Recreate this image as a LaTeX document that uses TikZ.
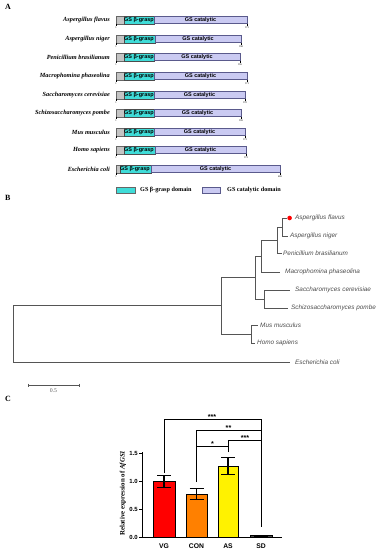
\documentclass[tikz,border=0pt]{standalone}
\usepackage{fontspec}
\setmainfont{Liberation Serif}
\setsansfont{Liberation Sans}
\usetikzlibrary{positioning,calc}

\definecolor{grasp}{HTML}{3FDCD8}
\definecolor{catal}{HTML}{CACAF2}
\definecolor{segline}{HTML}{5A5A8C}
\definecolor{stub}{HTML}{C4C4C4}
\definecolor{treeline}{HTML}{555555}

\begin{document}
\begin{tikzpicture}[
        x=1bp, y=-1bp,
        panel/.style={
            font=\bfseries\fontsize{8}{9}\selectfont,
            anchor=west,
            inner sep=0pt
        },
        species/.style={
            font=\bfseries\itshape\fontsize{6.3}{7}\selectfont,
            anchor=east,
            inner sep=0pt
        },
        segtext/.style={
            font=\sffamily\bfseries\fontsize{5.5}{6}\selectfont,
            inner sep=0pt
        },
        tiny/.style={
            font=\fontsize{2.6}{3}\selectfont,
            inner sep=0pt,
            anchor=north
        },
        legtext/.style={
            font=\bfseries\fontsize{6.2}{7}\selectfont,
            anchor=west,
            inner sep=0pt
        },
        leaf/.style={
            font=\sffamily\itshape\fontsize{6.4}{7}\selectfont,
            text=black!70,
            anchor=west,
            inner sep=0pt
        },
        branch/.style={draw=treeline, line width=0.8bp},
        bar/.style={draw=black, line width=0.8bp, fill=#1},
        errbar/.style={draw=black, line width=1.1bp},
        sig/.style={draw=black, line width=0.7bp},
        star/.style={
            font=\sffamily\bfseries\fontsize{7.2}{8}\selectfont,
            inner sep=0pt
        },
        ticklab/.style={
            font=\sffamily\bfseries\fontsize{6}{7}\selectfont,
            inner sep=0pt
        },
        axlab/.style={
            font=\sffamily\bfseries\fontsize{6.8}{7}\selectfont,
            inner sep=0pt
        }
    ]
        \useasboundingbox (0,0) rectangle (377,550);

        % Panel A: domain architecture
        \node[panel] (pa) at (5,7) {A};

        \foreach \nm/\yy/\xg/\xc/\xe/\num [count=\i] in {
                Aspergillus flavus/20/124/154/247/371,
                Aspergillus niger/39/124/155/241/358,
                Penicillium brasilianum/57/124/154/240/355,
                Macrophomina phaseolina/76/124/154/247/371,
                Saccharomyces cerevisiae/95/124/154/245/370,
                Schizosaccharomyces pombe/113/124/154/241/359,
                Mus musculus/132/124/154/245/373,
                Homo sapiens/150/124/155/246/373,
                Escherichia coli/169/120/151/280/469} {
            \node[species] (sp\i) at (110,\yy) {\nm};
            \filldraw[fill=stub, draw=black!60, line width=0.3bp]
                (116,\yy-3.7) rectangle (\xg,\yy+3.7);
            \filldraw[fill=grasp, draw=black!70, line width=0.3bp]
                (\xg,\yy-3.7) rectangle (\xc,\yy+3.7);
            \filldraw[fill=catal, draw=segline, line width=0.5bp]
                (\xc,\yy-3.7) rectangle (\xe,\yy+3.7);
            \draw[line width=0.3bp] (116,\yy+3.7) -- (116,\yy+6.5);
            \draw[line width=0.3bp] (\xe,\yy+3.7) -- (\xe,\yy+6.5);
            \node[tiny] (st\i) at (116,\yy+7) {1};
            \node[tiny] (en\i) at (\xe,\yy+7) {\num};
            \node[segtext, anchor=west] (gr\i) at (\xg,\yy) {GS β-grasp};
            \node[segtext] (ca\i) at ({(\xc+\xe)/2},\yy) {GS catalytic};
        }

        % Legend
        \filldraw[fill=grasp, draw=black!60, line width=0.4bp] (116,187) rectangle (135,193);
        \node[legtext] (lg1) at (140,190) {GS β-grasp domain};
        \filldraw[fill=catal, draw=segline, line width=0.5bp] (202,187) rectangle (220,193);
        \node[legtext] (lg2) at (227,190) {GS catalytic domain};

        % Panel B: phylogenetic tree
        \node[panel] (pb) at (5,198) {B};

        \coordinate (tfl) at (287,218);
        \coordinate (tni) at (288,236);
        \coordinate (tpe) at (282,253);
        \coordinate (tma) at (280,272);
        \coordinate (tsa) at (290,290);
        \coordinate (tsc) at (288,308);
        \coordinate (tmu) at (258,325);
        \coordinate (tho) at (255,343);
        \coordinate (tec) at (290,362);

        \coordinate (n1) at (282,227);
        \coordinate (n2) at (277,240);
        \coordinate (n3) at (261,256);
        \coordinate (n4) at (264,299);
        \coordinate (n5) at (255,277.5);
        \coordinate (n6) at (251,334);
        \coordinate (n7) at (221,305.5);
        \coordinate (root) at (13,333.5);

        \draw[branch] (n1) |- (tfl);
        \draw[branch] (n1) |- (tni);
        \draw[branch] (n2) |- (n1);
        \draw[branch] (n2) |- (tpe);
        \draw[branch] (n3) |- (n2);
        \draw[branch] (n3) |- (tma);
        \draw[branch] (n4) |- (tsa);
        \draw[branch] (n4) |- (tsc);
        \draw[branch] (n5) |- (n3);
        \draw[branch] (n5) |- (n4);
        \draw[branch] (n6) |- (tmu);
        \draw[branch] (n6) |- (tho);
        \draw[branch] (n7) |- (n5);
        \draw[branch] (n7) |- (n6);
        \draw[branch] (root) |- (n7);
        \draw[branch] (root) |- (tec);

        \fill[red] (289.6,218) circle (2.3);
        \node[leaf] (lfl) at (295,218) {Aspergillus flavus};
        \node[leaf] (lni) at (290,236) {Aspergillus niger};
        \node[leaf] (lpe) at (283,253) {Penicillium brasilianum};
        \node[leaf] (lma) at (285,272) {Macrophomina phaseolina};
        \node[leaf] (lsa) at (295,290) {Saccharomyces cerevisiae};
        \node[leaf] (lsc) at (291,308) {Schizosaccharomyces pombe};
        \node[leaf] (lmu) at (260,325) {Mus musculus};
        \node[leaf] (lho) at (257,343) {Homo sapiens};
        \node[leaf] (lec) at (295,362) {Escherichia coli};

        % Scale bar
        \coordinate (sb1) at (28,385);
        \coordinate (sb2) at (79,385);
        \draw[branch, line width=0.6bp] (sb1) -- (sb2);
        \draw[branch, line width=0.6bp] ($(sb1)+(0,-1.5)$) -- ($(sb1)+(0,1.5)$);
        \draw[branch, line width=0.6bp] ($(sb2)+(0,-1.5)$) -- ($(sb2)+(0,1.5)$);
        \node[font=\fontsize{5.8}{6}\selectfont, text=black!65, inner sep=0pt]
            (sbl) at (53.5,391) {0.5};

        % Panel C: relative expression
        \node[panel] (pc) at (5,399) {C};

        \begin{scope}[shift={(0,537)}, y=55.7bp]
            \draw[line width=0.9bp] (142,1.52) -- (142,0) -- (282,0);
            \foreach \v in {0.0,0.5,1.0,1.5} {
                \draw[line width=0.9bp] (142,\v) -- (139,\v);
                \node[ticklab, anchor=east] at (138,\v) {\v};
            }

            \foreach \xa/\xb/\v/\lo/\hi/\col/\lab [count=\i] in {
                    153/175/1.00/0.89/1.11/red/VG,
                    186/207/0.77/0.68/0.87/orange/CON,
                    218/238/1.26/1.13/1.42/yellow/AS,
                    250/272/0.02/0.012/0.03/black!70/SD} {
                \filldraw[bar=\col] (\xa,0) rectangle (\xb,\v);
                \draw[errbar] ({(\xa+\xb)/2},\lo) -- ({(\xa+\xb)/2},\hi);
                \draw[errbar] ({(\xa+\xb)/2-7},\lo) -- ({(\xa+\xb)/2+7},\lo);
                \draw[errbar] ({(\xa+\xb)/2-7},\hi) -- ({(\xa+\xb)/2+7},\hi);
                \node[axlab] (xl\i) at ({(\xa+\xb)/2},-0.17) {\lab};
            }
        \end{scope}

        \node[font=\bfseries\fontsize{6.9}{7}\selectfont, rotate=90, inner sep=0pt]
            (ylab) at (123,493) {Relative expression of \textit{AfGS1}};

        % Significance brackets
        \coordinate (vgt) at (164,473);
        \coordinate (cnt) at (196.5,482);
        \coordinate (ast) at (228,452);
        \coordinate (sdt) at (261,527);
        \coordinate (top1) at (261,419);
        \coordinate (top2) at (261,430);
        \coordinate (top3) at (261,440);
        \coordinate (top4) at (228,446);

        \draw[sig] (vgt) |- (top1) -- (sdt);
        \draw[sig] (cnt) |- (top2);
        \draw[sig] (ast) |- (top3);
        \draw[sig] ($(cnt)+(0,-36)$) -- (top4);

        \node[star] (s1) at (212,417) {***};
        \node[star] (s2) at (228.5,428) {**};
        \node[star] (s3) at (245,438) {***};
        \node[star] (s4) at (212.5,444.5) {*};

    \end{tikzpicture}
\end{document}
